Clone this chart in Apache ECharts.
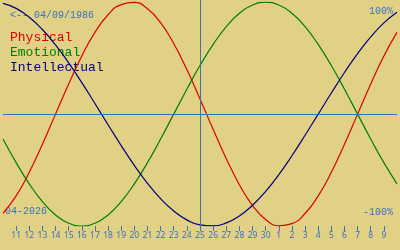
<!DOCTYPE html>
<html><head><meta charset="utf-8">
<script src="https://cdn.jsdelivr.net/npm/echarts@6/dist/echarts.min.js"></script>
<style>html,body{margin:0;padding:0;background:#e0d184}#c{width:400px;height:250px}</style>
</head><body><div id="c"></div>
<script>
// Days shown: Apr 10 2026 .. May 10 2026
const days = ['10','11','12','13','14','15','16','17','18','19','20','21','22','23','24','25','26','27','28','29','30','1','2','3','4','5','6','7','8','9','10'];
// Biorhythm values in percent, read per day
const physical = [-88.8,-73.1,-52.0,-27.0,0,27.0,52.0,73.1,88.8,97.9,99.8,94.2,81.7,63.1,39.8,13.6,-13.6,-39.8,-63.1,-81.7,-94.2,-99.8,-97.9,-88.8,-73.1,-52.0,-27.0,0,27.0,52.0,73.1];
const emotional = [-22.3,-43.4,-62.3,-78.2,-90.1,-97.5,-100,-97.5,-90.1,-78.2,-62.3,-43.4,-22.3,0,22.3,43.4,62.3,78.2,90.1,97.5,100,97.5,90.1,78.2,62.3,43.4,22.3,0,-22.3,-43.4,-62.3];
const intellectual = [99.0,94.5,86.6,75.6,61.8,45.8,28.2,9.5,-9.5,-28.2,-45.8,-61.8,-75.6,-86.6,-94.5,-99.0,-99.9,-97.2,-91.0,-81.5,-69.0,-54.1,-37.2,-18.9,0,18.9,37.2,54.1,69.0,81.5,91.0];
const todayIndex = 15; // Apr 25
const birthLabel = '<-- 04/09/1986';
const monthLabel = '04-2026';
const topLabel = '100%';
const bottomLabel = '-100%';
const names = ['Physical','Emotional','Intellectual'];
const colors = ['#dd0000','#008000','#000080'];
const blue = '#3a70c0';
const mono = '"Liberation Mono","DejaVu Sans Mono",monospace';

const chart = echarts.init(document.getElementById('c'), null, {renderer:'canvas'});
const mk = (name, data, color, extra) => Object.assign({
  name, type:'line', data, smooth:true, symbol:'none', silent:true,
  lineStyle:{color, width:1.2}, itemStyle:{color}
}, extra||{});
chart.setOption({
  backgroundColor:'#e0d184',
  animation:false,
  grid:{left:0,right:0,top:0,bottom:24},
  xAxis:{type:'category', data:days, boundaryGap:false,
    axisLine:{show:false, onZero:false},
    axisTick:{show:true, length:5, interval:(i)=> i>0 && i<days.length-1, lineStyle:{color:blue}},
    axisLabel:{interval:0, showMinLabel:false, showMaxLabel:false, margin:5,
      color:blue, fontSize:8.5, fontFamily:'"Noto Sans",sans-serif',
      formatter:(v,i)=> (i===0||i===days.length-1)?'':v},
    splitLine:{show:false}},
  yAxis:{type:'value', min:-100, max:102, show:false, splitLine:{show:false}},
  series:[
    mk(names[0], physical, colors[0], {markLine:{silent:true, symbol:'none', label:{show:false},
      lineStyle:{color:blue, width:1, type:'solid'},
      data:[{yAxis:0},{xAxis:todayIndex}]}}),
    mk(names[1], emotional, colors[1]),
    mk(names[2], intellectual, colors[2])
  ],
  graphic:[
    {type:'text', left:10, top:10, style:{text:birthLabel, fill:blue, font:'10px '+mono}},
    {type:'text', left:10, top:31, style:{text:names[0], fill:colors[0], font:'13px '+mono}},
    {type:'text', left:10, top:46, style:{text:names[1], fill:colors[1], font:'13px '+mono}},
    {type:'text', left:10, top:61, style:{text:names[2], fill:colors[2], font:'13px '+mono}},
    {type:'text', right:7, top:6, style:{text:topLabel, fill:blue, font:'10px '+mono}},
    {type:'text', right:7, top:207, style:{text:bottomLabel, fill:blue, font:'10px '+mono}},
    {type:'text', left:5, top:206, style:{text:monthLabel, fill:blue, font:'10px '+mono}}
  ]
});
</script></body></html>
